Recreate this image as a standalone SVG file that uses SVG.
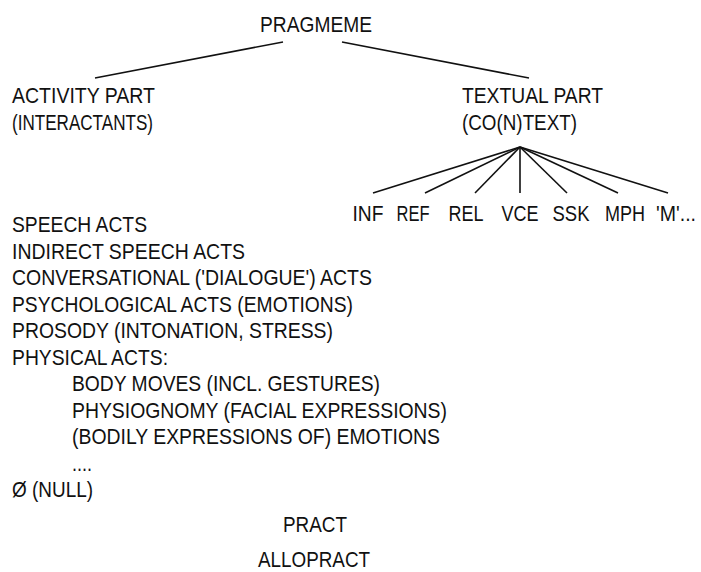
<svg xmlns="http://www.w3.org/2000/svg" width="701" height="572" viewBox="0 0 701 572">
<style>
text{font-family:"Liberation Sans",Arial,sans-serif;font-size:22px;fill:#111;}
.m{text-anchor:middle;}
line{stroke:#111;stroke-width:1.6;}
</style>
<rect width="701" height="572" fill="#fff"/>
<g id="connectors">
<line x1="283" y1="42" x2="95" y2="78"/>
<line x1="342" y1="42" x2="529" y2="78"/>
<line x1="520" y1="147" x2="373" y2="193"/>
<line x1="520" y1="147" x2="425" y2="193"/>
<line x1="520" y1="147" x2="475" y2="193"/>
<line x1="520" y1="147" x2="520" y2="193"/>
<line x1="520" y1="147" x2="567" y2="193"/>
<line x1="520" y1="147" x2="618" y2="193"/>
<line x1="520" y1="147" x2="668" y2="193"/>
</g>
<g id="pragmeme"><text x="260" y="32" textLength="112" lengthAdjust="spacingAndGlyphs">PRAGMEME</text></g>
<g id="activity">
<text x="12" y="103" textLength="143" lengthAdjust="spacingAndGlyphs">ACTIVITY PART</text>
<text x="12" y="130" textLength="141" lengthAdjust="spacingAndGlyphs">(INTERACTANTS)</text>
</g>
<g id="textual">
<text x="462" y="103" textLength="141" lengthAdjust="spacingAndGlyphs">TEXTUAL PART</text>
<text x="462" y="130" textLength="115" lengthAdjust="spacingAndGlyphs">(CO(N)TEXT)</text>
</g>
<g id="inf"><text class="m" x="368" y="221" textLength="31" lengthAdjust="spacingAndGlyphs">INF</text></g>
<g id="ref"><text class="m" x="413" y="221" textLength="33" lengthAdjust="spacingAndGlyphs">REF</text></g>
<g id="rel"><text class="m" x="466" y="221" textLength="35" lengthAdjust="spacingAndGlyphs">REL</text></g>
<g id="vce"><text class="m" x="520" y="221" textLength="37" lengthAdjust="spacingAndGlyphs">VCE</text></g>
<g id="ssk"><text class="m" x="571" y="221" textLength="37" lengthAdjust="spacingAndGlyphs">SSK</text></g>
<g id="mph"><text class="m" x="625" y="221" textLength="40" lengthAdjust="spacingAndGlyphs">MPH</text></g>
<g id="m"><text class="m" x="676" y="221" textLength="40" lengthAdjust="spacingAndGlyphs">'M'...</text></g>
<g id="acts">
<text x="12" y="232" textLength="135" lengthAdjust="spacingAndGlyphs">SPEECH ACTS</text>
<text x="12" y="258.5" textLength="233" lengthAdjust="spacingAndGlyphs">INDIRECT SPEECH ACTS</text>
<text x="12" y="285" textLength="360" lengthAdjust="spacingAndGlyphs">CONVERSATIONAL ('DIALOGUE') ACTS</text>
<text x="12" y="311.5" textLength="341" lengthAdjust="spacingAndGlyphs">PSYCHOLOGICAL ACTS (EMOTIONS)</text>
<text x="12" y="338" textLength="321" lengthAdjust="spacingAndGlyphs">PROSODY (INTONATION, STRESS)</text>
<text x="12" y="364.5" textLength="156" lengthAdjust="spacingAndGlyphs">PHYSICAL ACTS:</text>
<text x="72" y="391" textLength="308" lengthAdjust="spacingAndGlyphs">BODY MOVES (INCL. GESTURES)</text>
<text x="72" y="417.5" textLength="375" lengthAdjust="spacingAndGlyphs">PHYSIOGNOMY (FACIAL EXPRESSIONS)</text>
<text x="72" y="444" textLength="368" lengthAdjust="spacingAndGlyphs">(BODILY EXPRESSIONS OF) EMOTIONS</text>
<text x="72" y="470.5" textLength="20" lengthAdjust="spacingAndGlyphs">....</text>
<text x="12" y="497" textLength="81" lengthAdjust="spacingAndGlyphs">Ø (NULL)</text>
</g>
<g id="pract"><text x="283" y="532" textLength="64" lengthAdjust="spacingAndGlyphs">PRACT</text></g>
<g id="allopract"><text x="258" y="567" textLength="112" lengthAdjust="spacingAndGlyphs">ALLOPRACT</text></g>
</svg>
